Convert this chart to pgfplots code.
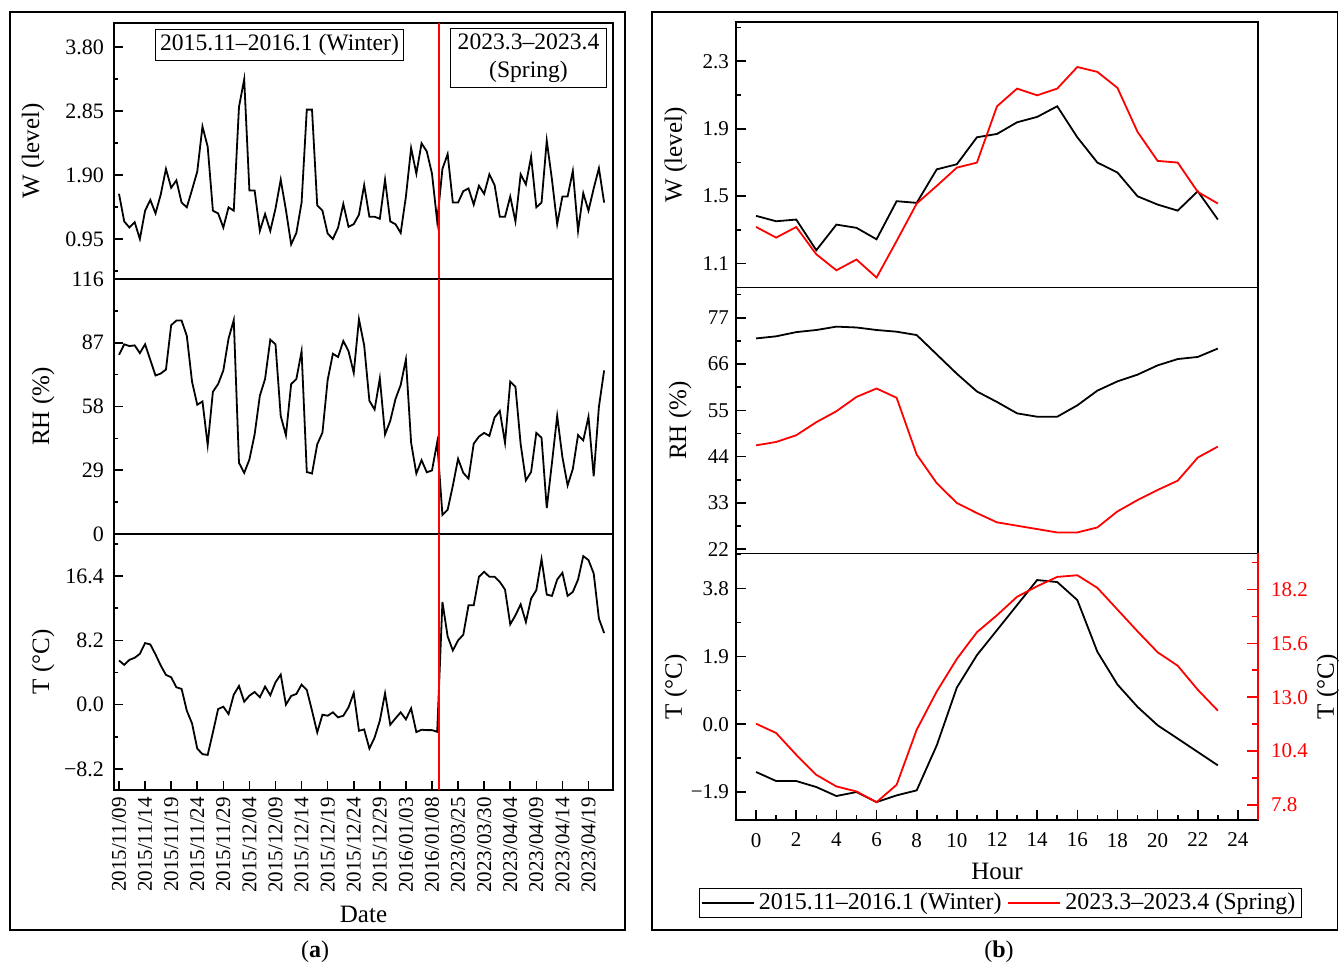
\documentclass[border=0pt]{standalone}
\usepackage{pgfplots}
\pgfplotsset{compat=1.18}
\usepackage{pgfplotstable}
\usepackage{fontspec}
\setmainfont{Liberation Serif}

\pgfplotstableread{
i W RH T
0 1.62 81.5 5.64
1 1.21 86.3 5.08
2 1.12 85.5 5.72
3 1.20 85.8 5.98
4 0.95 82.3 6.49
5 1.37 86.3 7.86
6 1.53 79.2 7.69
7 1.33 72.1 6.41
8 1.61 73.0 5.00
9 1.99 74.8 3.80
10 1.71 95.0 3.50
11 1.82 97.1 2.22
12 1.49 97.1 2.01
13 1.42 90.1 -0.77
14 1.68 69.3 -2.39
15 1.95 58.8 -5.60
16 2.62 60.3 -6.32
17 2.32 40.5 -6.41
18 1.37 64.7 -3.54
19 1.33 68.2 -0.56
20 1.12 74.4 -0.26
21 1.42 88.9 -1.20
22 1.37 97.3 1.28
23 2.91 32.4 2.39
24 3.32 27.8 0.38
25 1.67 33.9 1.15
26 1.67 45.3 1.62
27 1.07 62.9 0.94
28 1.32 70.5 2.31
29 1.07 88.4 1.20
30 1.40 86.3 2.86
31 1.83 53.7 3.84
32 1.38 44.9 0.00
33 0.87 68.2 1.11
34 1.04 70.5 1.37
35 1.49 83.1 2.56
36 2.87 28.2 1.88
37 2.87 27.5 -0.77
38 1.45 40.8 -3.54
39 1.37 46.1 -1.28
40 1.03 70.1 -1.41
41 0.95 82.0 -0.98
42 1.12 80.5 -1.62
43 1.47 87.8 -1.41
44 1.13 83.2 -0.34
45 1.17 73.3 1.49
46 1.31 97.7 -3.33
47 1.75 85.8 -3.16
48 1.28 60.6 -5.60
49 1.28 56.6 -4.19
50 1.25 70.8 -2.05
51 1.83 45.3 1.45
52 1.21 51.5 -2.56
53 1.17 61.4 -1.75
54 1.04 67.8 -0.98
55 1.58 79.4 -1.88
56 2.30 41.5 -0.47
57 1.92 27.5 -3.50
58 2.37 33.6 -3.20
59 2.25 28.1 -3.25
60 1.92 28.9 -3.25
61 1.21 41.8 -3.46
62 1.99 8.7 13.11
63 2.21 11.0 8.71
64 1.49 22.0 6.92
65 1.49 34.2 8.20
66 1.66 27.8 8.93
67 1.70 25.2 12.68
68 1.46 41.1 12.68
69 1.74 44.3 16.32
70 1.62 46.0 16.96
71 1.91 44.6 16.32
72 1.75 53.0 16.32
73 1.28 56.0 15.67
74 1.28 41.5 14.69
75 1.58 69.3 10.25
76 1.21 67.0 11.40
77 1.91 40.8 12.81
78 1.76 24.4 10.55
79 2.17 28.2 13.54
80 1.42 46.0 14.61
81 1.49 43.8 18.58
82 2.41 11.8 14.05
83 1.83 32.4 13.88
84 1.17 53.7 15.97
85 1.58 35.0 16.83
86 1.58 22.1 13.88
87 1.96 29.6 14.39
88 1.07 45.0 15.97
89 1.63 42.6 18.96
90 1.37 53.3 18.45
91 1.70 26.3 16.74
92 2.00 57.9 10.98
93 1.49 74.4 9.14
}\lefttab

\pgfplotstableread{
h Ww Ws RHw RHs Tw Ts
0 1.383 1.317 72.1 46.7 -1.336 11.72
1 1.351 1.254 72.6 47.5 -1.589 11.27
2 1.361 1.317 73.6 49.1 -1.589 10.22
3 1.179 1.155 74.1 52.2 -1.757 9.25
4 1.331 1.060 74.9 54.8 -2.009 8.69
5 1.312 1.124 74.7 58.2 -1.897 8.45
6 1.244 1.017 74.1 60.2 -2.178 7.93
7 1.470 1.234 73.7 58.0 -1.991 8.77
8 1.460 1.456 72.9 44.5 -1.850 11.43
9 1.659 1.561 68.3 37.7 -0.589 13.28
10 1.689 1.669 63.7 33.0 1.028 14.85
11 1.849 1.699 59.5 30.6 1.935 16.14
12 1.869 2.033 57.0 28.4 2.636 16.96
13 1.938 2.138 54.3 27.6 3.337 17.85
14 1.970 2.098 53.5 26.8 4.037 18.36
15 2.033 2.138 53.5 26.0 3.981 18.81
16 1.849 2.266 56.2 26.0 3.477 18.89
17 1.699 2.237 59.7 27.2 2.028 18.28
18 1.640 2.142 61.9 31.0 1.112 17.23
19 1.499 1.881 63.5 33.7 0.486 16.18
20 1.450 1.709 65.7 36.1 -0.028 15.17
21 1.414 1.699 67.2 38.3 -0.402 14.52
22 1.529 1.525 67.7 43.8 -0.776 13.36
23 1.361 1.456 69.7 46.4 -1.150 12.35
}\righttab

\pgfplotsset{
  base/.style={
    scale only axis, anchor=north west,
    axis line style={line width=0.9pt},
    tick style={line width=0.8pt, black},
    major tick length=4.3pt, minor tick length=2pt,
    tick align=inside,
    xtick pos=bottom, ytick pos=left,
    ticklabel style={font=\fontsize{10.5}{12}\selectfont},
    label style={font=\fontsize{12.5}{15}\selectfont},
  },
  leftp/.style={
    yticklabel style={font=\fontsize{11}{13}\selectfont, xshift=-1.5pt},
  },
  rightp/.style={
    major tick length=5pt, minor tick length=2.5pt,
  },
  dline/.style={line width=0.9pt, no markers},
}

\begin{document}
\begin{tikzpicture}
\useasboundingbox (0,0) rectangle (669.5pt,482.5pt);
% outer frames
\draw[line width=0.8pt] (5pt,476.5pt) rectangle (312.5pt,17.5pt);
\draw[line width=0.8pt] (326pt,476.5pt) rectangle (668.8pt,17.5pt);

% ---------- (a) left ----------
\begin{axis}[base, leftp, at={(57pt,471pt)}, width=249.5pt, height=128pt,
  xmin=-0.96, xmax=94.7, ymin=0.356, ymax=4.156,
  xtick=\empty,
  ytick={0.95,1.90,2.85,3.80}, yticklabels={0.95,1.90,2.85,3.80},
  minor ytick={0.475,1.425,2.375,3.325},
  ylabel={W (level)}, ylabel style={at={(axis description cs:-0.1623,0.5)}, anchor=center}]
\addplot[dline, black] table[x=i,y=W]{\lefttab};
\addplot[red, line width=0.8pt] coordinates {(61.35,0.356) (61.35,4.156)};
\end{axis}

\begin{axis}[base, leftp, at={(57pt,343pt)}, width=249.5pt, height=127.5pt,
  xmin=-0.96, xmax=94.7, ymin=0, ymax=116,
  xtick=\empty,
  ytick={0,29,58,87,116}, yticklabels={0,29,58,87,116},
  minor ytick={14.5,43.5,72.5,101.5},
  ylabel={RH (\%)}, ylabel style={at={(axis description cs:-0.1423,0.5)}, anchor=center}]
\addplot[dline, black] table[x=i,y=RH]{\lefttab};
\addplot[red, line width=0.8pt] coordinates {(61.35,0) (61.35,116)};
\end{axis}

\begin{axis}[base, leftp, at={(57pt,215.5pt)}, width=249.5pt, height=128pt,
  xmin=-0.96, xmax=94.7, ymin=-10.89, ymax=21.78,
  xtick={0,5,...,90},
  xticklabels={2015/11/09,2015/11/14,2015/11/19,2015/11/24,2015/11/29,2015/12/04,2015/12/09,2015/12/14,2015/12/19,2015/12/24,2015/12/29,2016/01/03,2016/01/08,2023/03/25,2023/03/30,2023/04/04,2023/04/09,2023/04/14,2023/04/19},
  xticklabel style={rotate=90, anchor=east},
  ytick={-8.2,0,8.2,16.4}, yticklabels={−8.2,0.0,8.2,16.4},
  minor ytick={-4.1,4.1,12.3,20.5},
  ylabel={T (°C)}, ylabel style={at={(axis description cs:-0.1423,0.5)}, anchor=center},
  xlabel={Date}]
\addplot[dline, black] table[x=i,y=T]{\lefttab};
\addplot[red, line width=0.8pt] coordinates {(61.35,-10.89) (61.35,21.78)};
\end{axis}

\node[draw, line width=0.5pt, inner sep=2.5pt, font=\fontsize{11.8}{14}\selectfont] at (139.75pt,460pt) {2015.11–2016.1 (Winter)};
\node[draw, line width=0.5pt, inner xsep=3.5pt, inner ysep=2.5pt, align=center, font=\fontsize{11.8}{14}\selectfont] at (264.25pt,453.5pt) {2023.3–2023.4\\(Spring)};

% ---------- (b) right ----------
\begin{axis}[base, rightp, at={(368pt,471.5pt)}, width=261pt, height=132.75pt,
  xmin=-1, xmax=25, ymin=0.958, ymax=2.533,
  xtick=\empty,
  ytick={1.1,1.5,1.9,2.3}, yticklabels={1.1,1.5,1.9,2.3},
  minor ytick={1.3,1.7,2.1,2.5},
  ylabel={W (level)}, ylabel style={at={(axis description cs:-0.115,0.5)}, anchor=center}]
\addplot[dline, black] table[x=h,y=Ww]{\righttab};
\addplot[dline, red] table[x=h,y=Ws]{\righttab};
\end{axis}

\begin{axis}[base, rightp, at={(368pt,338.75pt)}, width=261pt, height=133pt,
  xmin=-1, xmax=25, ymin=21.0, ymax=84.2,
  xtick=\empty,
  ytick={22,33,44,55,66,77}, yticklabels={22,33,44,55,66,77},
  minor ytick={27.5,38.5,49.5,60.5,71.5,82.5},
  ylabel={RH (\%)}, ylabel style={at={(axis description cs:-0.107,0.5)}, anchor=center}]
\addplot[dline, black] table[x=h,y=RHw]{\righttab};
\addplot[dline, red] table[x=h,y=RHs]{\righttab};
\end{axis}

\begin{axis}[base, rightp, at={(368pt,205.75pt)}, width=261pt, height=133.25pt,
  xmin=-1, xmax=25, ymin=-2.68, ymax=4.78,
  xtick={0,2,...,24}, minor xtick={1,3,...,23},
  xticklabels={0,2,4,6,8,10,12,14,16,18,20,22,24},
  xticklabel style={yshift=-3pt},
  ytick={-1.9,0,1.9,3.8}, yticklabels={−1.9,0.0,1.9,3.8},
  minor ytick={-0.95,0.95,2.85,4.75},
  ylabel={T (°C)}, ylabel style={at={(axis description cs:-0.115,0.5)}, anchor=center},
  xlabel={Hour}, xlabel style={yshift=-1pt},
  legend style={at={(0.506,-0.311)}, anchor=center, legend columns=2, draw=black,
    font=\fontsize{12}{14}\selectfont, inner xsep=1pt, inner ysep=0.5pt,
    /tikz/every even column/.append style={column sep=1pt}},
  legend image code/.code={\draw[#1, line width=0.9pt] (0pt,0pt) -- (26pt,0pt);}]
\addplot[dline, black] table[x=h,y=Tw]{\righttab};
\addlegendentry{2015.11–2016.1 (Winter)}
\addlegendimage{red, line width=0.9pt}
\addlegendentry{2023.3–2023.4 (Spring)}
\end{axis}

\begin{axis}[base, at={(368pt,205.75pt)}, width=261pt, height=133.25pt,
  xmin=-1, xmax=25, ymin=7.07, ymax=19.94,
  axis x line=none, axis y line*=right, ytick pos=right,
  major tick length=5.5pt, minor tick length=3pt,
  y axis line style={red, line width=0.9pt},
  tick style={red, line width=0.8pt},
  ytick={7.8,10.4,13.0,15.6,18.2}, yticklabels={7.8,10.4,13.0,15.6,18.2},
  minor ytick={9.1,11.7,14.3,16.9,19.5},
  yticklabel style={red, xshift=3pt},
  ylabel={T (°C)}, ylabel style={black, at={(axis description cs:1.134,0.5)}, anchor=center}]
\addplot[dline, red] table[x=h,y=Ts]{\righttab};
\end{axis}

\node[font=\fontsize{12}{14}\selectfont] at (157.5pt,6.5pt) {(\textbf{a})};
\node[font=\fontsize{12}{14}\selectfont] at (499.5pt,6.5pt) {(\textbf{b})};
\end{tikzpicture}
\end{document}
